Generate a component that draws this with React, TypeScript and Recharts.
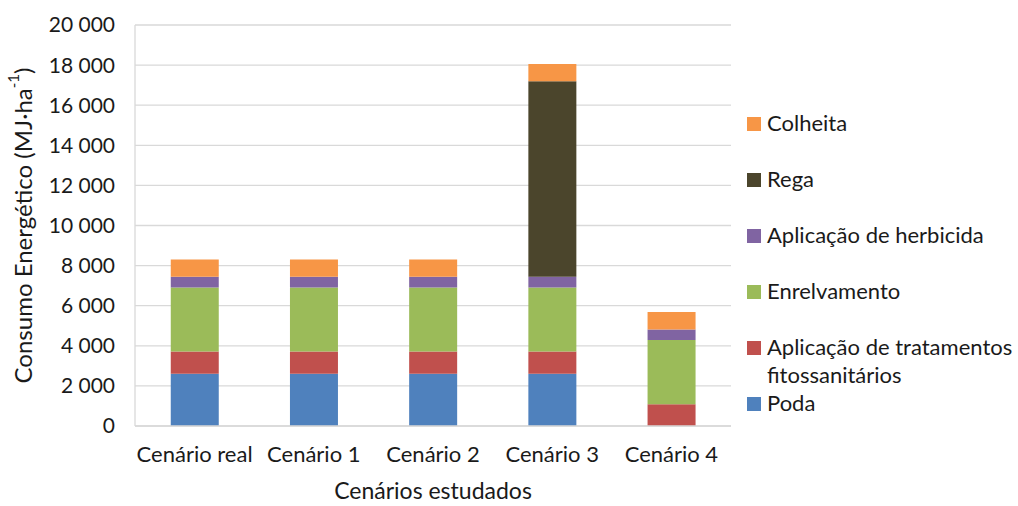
import React from "react";
import {
  BarChart,
  Bar,
  XAxis,
  YAxis,
  CartesianGrid,
} from "recharts";

const cenarios = ["Cenário real", "Cenário 1", "Cenário 2", "Cenário 3", "Cenário 4"];

// MJ·ha-1 per operation
const poda = [2610, 2610, 2610, 2610, 0];
const tratamentos = [1100, 1100, 1100, 1100, 1090];
const enrelvamento = [3200, 3200, 3200, 3200, 3200];
const herbicida = [530, 530, 530, 530, 520];
const rega = [0, 0, 0, 9750, 0];
const colheita = [870, 870, 870, 865, 880];

const yTicks = [0, 2000, 4000, 6000, 8000, 10000, 12000, 14000, 16000, 18000, 20000];

const series = [
  { key: "poda", name: "Poda", color: "#4f81bd", values: poda },
  { key: "tratamentos", name: "Aplicação de tratamentos fitossanitários", color: "#c0504d", values: tratamentos },
  { key: "enrelvamento", name: "Enrelvamento", color: "#9bbb59", values: enrelvamento },
  { key: "herbicida", name: "Aplicação de herbicida", color: "#8064a2", values: herbicida },
  { key: "rega", name: "Rega", color: "#4b452c", values: rega },
  { key: "colheita", name: "Colheita", color: "#f79646", values: colheita },
];

const data = cenarios.map((c, i) => {
  const row: Record<string, string | number> = { cenario: c };
  series.forEach((s) => {
    row[s.key] = s.values[i];
  });
  return row;
});

const FONT = "Lato, 'Noto Sans', sans-serif";
const TEXT = "#1a1a1a";

const fmt = (v: number) => String(v).replace(/\B(?=(\d{3})+(?!\d))/g, " ");

function YLabel(props: any) {
  const vb = props.viewBox || {};
  const cx = 22;
  const cy = vb.y + vb.height / 2;
  return (
    <text
      x={cx}
      y={cy}
      transform={`rotate(-90 ${cx} ${cy})`}
      textAnchor="middle"
      dominantBaseline="central"
      fontSize={24}
      fontFamily={FONT}
      fill={TEXT}
    >
      Consumo Energético (MJ·ha
      <tspan dy={-9} fontSize={15}>-1</tspan>
      <tspan dy={9}>)</tspan>
    </text>
  );
}

export default function App() {
  return (
    <div style={{ position: "absolute", left: 0, top: 0, width: 1018, height: 506, background: "#fff" }}>
      <BarChart
        width={1018}
        height={506}
        data={data}
        margin={{ top: 25, right: 287, bottom: 5, left: 40 }}
        barCategoryGap="30%"
      >
        <CartesianGrid vertical={false} stroke="#d9d9d9" strokeWidth={1.3} />
        <XAxis
          dataKey="cenario"
          height={75}
          tickLine={false}
          axisLine={{ stroke: "#d9d9d9", strokeWidth: 1.3 }}
          tick={{ fontSize: 22, fontFamily: FONT, fill: TEXT, dy: 12 }}
          label={{
            value: "Cenários estudados",
            position: "insideBottom",
            offset: 2,
            fontSize: 23,
            fontFamily: FONT,
            fill: TEXT,
          }}
        />
        <YAxis
          width={95}
          domain={[0, 20000]}
          ticks={yTicks}
          tickFormatter={fmt}
          tickLine={false}
          axisLine={{ stroke: "#d9d9d9", strokeWidth: 1.3 }}
          tick={{ fontSize: 21, fontFamily: FONT, fill: TEXT, dx: -12 }}
          label={<YLabel />}
        />
        <YAxis
          yAxisId="frame"
          orientation="right"
          width={0}
          domain={[0, 20000]}
          tick={false}
          tickLine={false}
          axisLine={{ stroke: "#d9d9d9", strokeWidth: 1.3 }}
        />
        {series.map((s) => (
          <Bar
            key={s.key}
            dataKey={s.key}
            name={s.name}
            stackId="a"
            fill={s.color}
            isAnimationActive={false}
          />
        ))}
      </BarChart>
      <div
        style={{
          position: "absolute",
          left: 747,
          top: 109,
          width: 271,
          fontFamily: FONT,
          fontSize: 22,
          color: TEXT,
          lineHeight: "28px",
        }}
      >
        {[...series].reverse().map((s) => (
          <div key={s.key} style={{ display: "flex", alignItems: "flex-start", height: s.key === "poda" ? 28 : 56 }}>
            <span
              style={{
                display: "inline-block",
                width: 14,
                height: 14,
                background: s.color,
                marginTop: 8,
                marginRight: 6,
                flexShrink: 0,
              }}
            />
            <span style={{ width: 251 }}>{s.name}</span>
          </div>
        ))}
      </div>
    </div>
  );
}
